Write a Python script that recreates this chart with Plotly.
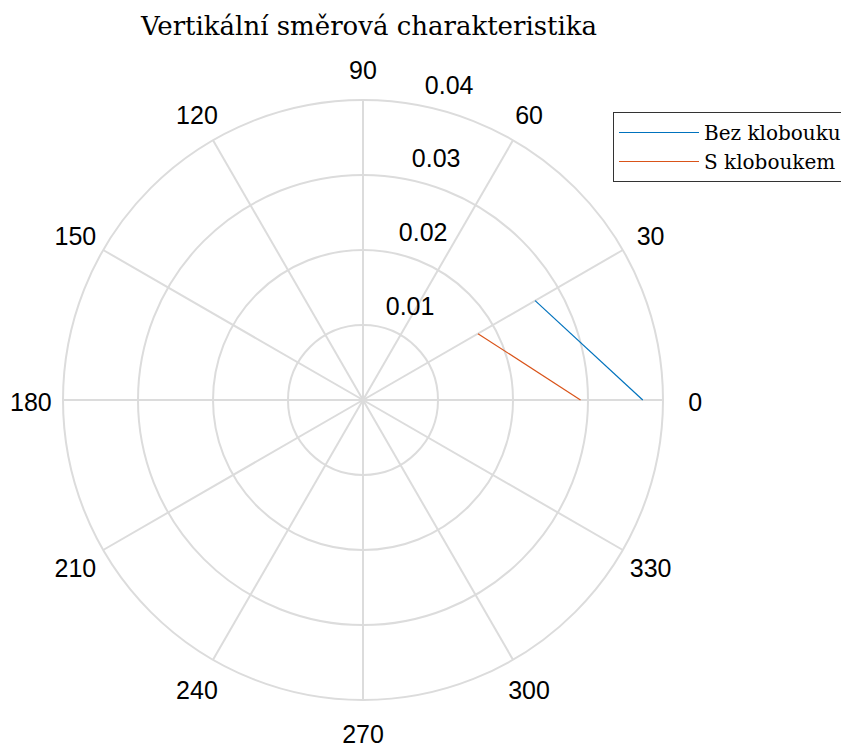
import plotly.graph_objects as go

theta_deg = [0, 30]
r_bez = [0.0373, 0.0265]
r_s = [0.0290, 0.0177]
series_names = ["Bez klobouku", "S kloboukem"]
angle_ticks = list(range(0, 360, 30))
angle_labels = [str(a) for a in angle_ticks]
r_ticks = [0.01, 0.02, 0.03, 0.04]
r_labels = ["0.01", "0.02", "0.03", "0.04"]
r_max = 0.04
r_axis_angle = 80
label_ring = 1.107  # angular labels sit at this fraction of the outer radius

W, H = 849, 745
OFF = 8  # default page body margin
cx, cy, R = 363 - OFF, 400 - OFF, 300
R2 = R * label_ring
cy2 = cy + 5  # text baseline compensation for the label layer

grid = "#DCDCDC"
tick_font = dict(family="Liberation Sans", size=25, color="black")

fig = go.Figure()
fig.add_trace(go.Scatterpolar(r=r_bez, theta=theta_deg, mode="lines", name=series_names[0],
                              line=dict(color="#0072BD", width=1.2)))
fig.add_trace(go.Scatterpolar(r=r_s, theta=theta_deg, mode="lines", name=series_names[1],
                              line=dict(color="#D95319", width=1.2)))

# angular tick labels, centred on a circle just outside the grid (separate invisible polar,
# same pixels-per-unit as the main one)
fig.add_trace(go.Scatterpolar(r=[r_max * label_ring] * len(angle_ticks), theta=angle_ticks,
                              mode="text", text=angle_labels, textposition="middle center",
                              textfont=tick_font, showlegend=False, hoverinfo="skip",
                              cliponaxis=False, subplot="polar2"))
# radial tick labels along the 80 degree direction
fig.add_trace(go.Scatterpolar(r=r_ticks, theta=[r_axis_angle] * len(r_ticks),
                              mode="markers+text", text=r_labels, textposition="top right",
                              marker=dict(size=14, opacity=0),
                              textfont=tick_font, showlegend=False, hoverinfo="skip",
                              cliponaxis=False, subplot="polar2"))

hidden_axis = dict(visible=False, showgrid=False, showline=False, showticklabels=False, ticks="")

fig.update_layout(
    width=W, height=H,
    margin=dict(l=0, r=0, t=0, b=0),
    paper_bgcolor="white",
    title=dict(text="Vertikální směrová charakteristika", x=(369 - OFF) / W, xanchor="center",
               y=1 - (26 - OFF) / H, yanchor="middle",
               font=dict(family="DejaVu Serif", size=26, color="black")),
    polar=dict(
        domain=dict(x=[(cx - R) / W, (cx + R) / W], y=[(H - cy - R) / H, (H - cy + R) / H]),
        bgcolor="white",
        angularaxis=dict(direction="counterclockwise", rotation=0,
                         tickmode="array", tickvals=angle_ticks,
                         showticklabels=False,
                         ticks="", showline=True, linecolor=grid, linewidth=2,
                         gridcolor=grid, gridwidth=2),
        radialaxis=dict(range=[0, r_max], tickmode="array", tickvals=r_ticks,
                        showticklabels=False, angle=r_axis_angle,
                        showline=False, ticks="",
                        gridcolor=grid, gridwidth=2),
    ),
    polar2=dict(
        domain=dict(x=[(cx - R2) / W, (cx + R2) / W], y=[(H - cy2 - R2) / H, (H - cy2 + R2) / H]),
        bgcolor="rgba(0,0,0,0)",
        angularaxis=dict(direction="counterclockwise", rotation=0, **hidden_axis),
        radialaxis=dict(range=[0, r_max * label_ring], **hidden_axis),
    ),
    legend=dict(x=(613 - OFF) / W, xanchor="left", y=1 - (112 - OFF) / H, yanchor="top",
                bordercolor="#333333", borderwidth=1, bgcolor="white",
                font=dict(family="DejaVu Serif", size=20, color="black"),
                tracegroupgap=0, itemwidth=80),
    showlegend=True,
)

fig.write_html("out.html")
